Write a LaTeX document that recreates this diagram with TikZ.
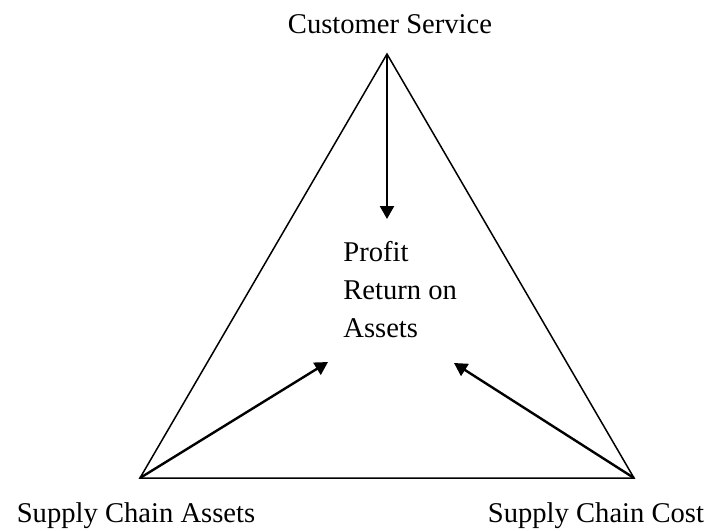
\documentclass[tikz,border=0pt]{standalone}
\usepackage{fontspec}
\setmainfont{Liberation Serif}
\usetikzlibrary{arrows.meta}

\begin{document}
\begin{tikzpicture}[x=0.5pt,y=-0.5pt,
  label text/.style={font=\fontsize{14.3}{18.8}\selectfont,inner sep=0},
  side/.style={line width=0.75pt},
  push/.style={line width=1.2pt,-{Triangle[length=6.5pt,width=7pt]}}]
  \useasboundingbox (0,0) rectangle (709,531);

  % corners of the triangle
  \coordinate (top) at (387,54);
  \coordinate (left) at (140,478);
  \coordinate (right) at (634,478);

  \draw[side] (top) -- (left) -- (right) -- cycle;

  \node[label text,anchor=base] (service) at (390,33) {Customer Service};
  \node[label text,anchor=base] (assets) at (136,522) {Supply Chain Assets};
  \node[label text,anchor=base] (cost) at (596,522) {Supply Chain Cost};

  % base anchor sits on the last line here
  \node[label text,anchor=base west,align=left] (profit) at (343,337)
    {Profit\\Return on\\Assets};

  % arrow tips around the middle text
  \coordinate (t1) at (387,219);
  \coordinate (t2) at (328,362);
  \coordinate (t3) at (454,363);

  \draw[push] (top) -- (t1);
  \draw[push] (left) -- (t2);
  \draw[push] (right) -- (t3);

\end{tikzpicture}
\end{document}
